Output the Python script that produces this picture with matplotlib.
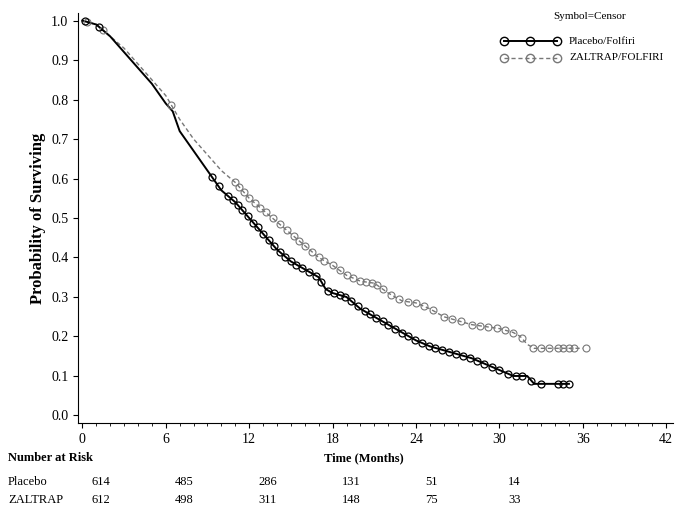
import matplotlib.pyplot as plt
import numpy as np

plt.rcParams['font.family'] = 'Liberation Serif'

# Kaplan-Meier estimates (months, survival)
placebo_t = [0, 1, 2, 3, 4, 5, 6, 6.5, 7, 8, 9, 10, 11, 12, 13, 14, 15, 16, 17, 17.5, 18, 19,
             20, 21, 22, 23, 24, 25, 26, 27, 28, 29, 30, 31, 32, 32.5, 35]
placebo_s = [1.0, 0.99, 0.96, 0.92, 0.88, 0.84, 0.79, 0.77, 0.72, 0.67, 0.62, 0.57, 0.54, 0.50,
             0.46, 0.42, 0.39, 0.37, 0.35, 0.32, 0.31, 0.30, 0.27, 0.25, 0.23, 0.21, 0.19, 0.175,
             0.165, 0.155, 0.145, 0.13, 0.115, 0.10, 0.10, 0.08, 0.08]
zaltrap_t = [0, 1, 2, 3, 4, 5, 6, 7, 8, 9, 10, 11, 12, 13, 14, 15, 16, 17, 18, 19, 20, 21, 22,
             23, 24, 25, 26, 27, 28, 29, 30, 31, 31.5, 32, 32.5, 36]
zaltrap_s = [1.0, 0.99, 0.96, 0.93, 0.89, 0.85, 0.81, 0.75, 0.70, 0.66, 0.62, 0.59, 0.55, 0.52,
             0.49, 0.46, 0.43, 0.40, 0.38, 0.355, 0.34, 0.335, 0.31, 0.29, 0.285, 0.27, 0.25,
             0.24, 0.23, 0.225, 0.22, 0.21, 0.20, 0.18, 0.17, 0.17]

# censor times
placebo_c = [0.2, 1.2, 9.3, 9.8, 10.5, 10.8, 11.2, 11.5, 11.9, 12.3, 12.6, 13.0, 13.4, 13.8,
             14.2, 14.6, 15.0, 15.4, 15.8, 16.3, 16.8, 17.2, 17.7, 18.1, 18.5, 18.9, 19.3, 19.8,
             20.3, 20.7, 21.1, 21.6, 22.0, 22.5, 23.0, 23.4, 23.9, 24.4, 24.9, 25.4, 25.9, 26.4,
             26.9, 27.4, 27.9, 28.4, 28.9, 29.5, 30.0, 30.6, 31.2, 31.6, 32.3, 33.0, 34.2, 34.6,
             35.0]
zaltrap_c = [0.3, 1.5, 6.4, 11.0, 11.3, 11.6, 12.0, 12.4, 12.8, 13.2, 13.7, 14.2, 14.7, 15.2,
             15.6, 16.0, 16.5, 17.0, 17.4, 18.0, 18.5, 19.0, 19.5, 20.0, 20.4, 20.8, 21.2, 21.6,
             22.2, 22.8, 23.4, 24.0, 24.6, 25.2, 26.0, 26.6, 27.2, 28.0, 28.6, 29.2, 29.8, 30.4,
             31.0, 31.6, 32.4, 33.0, 33.6, 34.2, 34.6, 35.0, 35.4, 36.2]

risk_times = [0, 6, 12, 18, 24, 30]
risk_placebo = [614, 485, 286, 131, 51, 14]
risk_zaltrap = [612, 498, 311, 148, 75, 33]

fig = plt.figure(figsize=(6.8, 5.07), dpi=100)
ax = fig.add_axes([0.115, 0.165, 0.875, 0.81])

ax.plot(zaltrap_t, zaltrap_s, color='#777777', lw=1.0, ls=(0, (3, 2)))
ax.plot(placebo_t, placebo_s, color='black', lw=1.4)
ax.plot(zaltrap_c, np.interp(zaltrap_c, zaltrap_t, zaltrap_s), 'o', ms=5, mfc='none',
        mec='#777777', mew=0.8)
ax.plot(placebo_c, np.interp(placebo_c, placebo_t, placebo_s), 'o', ms=5, mfc='none',
        mec='black', mew=0.9)

ax.set_xlim(-0.3, 42.5)
ax.set_ylim(-0.02, 1.02)
ax.set_xticks(range(0, 43, 6))
ax.set_xticks(range(0, 43), minor=True)
ax.set_yticks(np.arange(0, 1.01, 0.1))
ax.set_yticklabels([f'{v:.1f}' for v in np.arange(0, 1.01, 0.1)])
ax.tick_params(labelsize=10)
ax.spines['top'].set_visible(False)
ax.spines['right'].set_visible(False)
ax.set_ylabel('Probability of Surviving', fontsize=12, fontweight='bold')

# legend
ax.text(0.86, 0.985, 'Symbol=Censor', transform=ax.transAxes, fontsize=8, ha='center')
lx = [0.715, 0.76, 0.805]
ax.plot(lx, [0.93] * 3, transform=ax.transAxes, color='black', lw=1.4, marker='o', ms=6,
        mfc='none', clip_on=False)
ax.plot(lx, [0.89] * 3, transform=ax.transAxes, color='#777777', lw=1.0, ls=(0, (3, 2)),
        marker='o', ms=6, mfc='none', clip_on=False)
ax.text(0.825, 0.93, 'Placebo/Folfiri', transform=ax.transAxes, fontsize=8, va='center')
ax.text(0.825, 0.89, 'ZALTRAP/FOLFIRI', transform=ax.transAxes, fontsize=8, va='center')

# number at risk table
fig.text(0.012, 0.09, 'Number at Risk', fontsize=9, fontweight='bold')
fig.text(0.535, 0.09, 'Time (Months)', fontsize=9, fontweight='bold', ha='center')
fig.text(0.012, 0.043, 'Placebo', fontsize=9)
fig.text(0.012, 0.008, 'ZALTRAP', fontsize=9)
for t, p, z in zip(risk_times, risk_placebo, risk_zaltrap):
    xf = fig.transFigure.inverted().transform(ax.transData.transform((t, 0)))[0]
    fig.text(xf + 0.013, 0.043, str(p), fontsize=9)
    fig.text(xf + 0.013, 0.008, str(z), fontsize=9)

fig.savefig('out.png', dpi=100)
